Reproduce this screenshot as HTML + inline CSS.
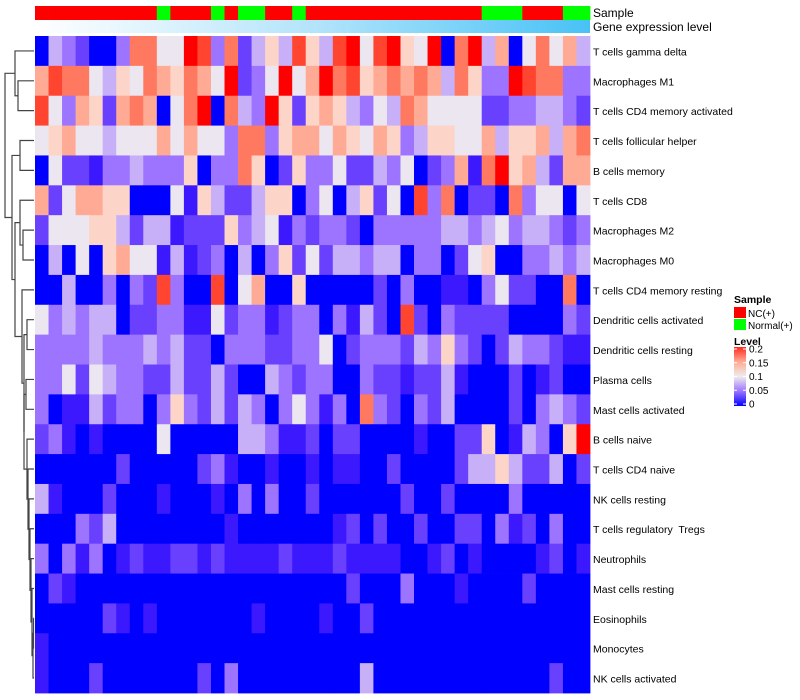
<!DOCTYPE html>
<html><head><meta charset="utf-8"><style>
html,body{margin:0;padding:0;background:#fff;}
svg{display:block;font-family:"Liberation Sans",Arial,sans-serif;}
#labels text{white-space:pre;}
</style></head><body>
<svg id="chart" width="800" height="700" viewBox="0 0 800 700" xmlns="http://www.w3.org/2000/svg">
<defs>
<linearGradient id="geneGrad" x1="0" x2="1" y1="0" y2="0">
<stop offset="0" stop-color="#ffffff"/><stop offset="0.5" stop-color="#b4e4fa"/><stop offset="1" stop-color="#48c2f6"/>
</linearGradient>
<linearGradient id="levelGrad" x1="0" x2="0" y1="1" y2="0">
<stop offset="0" stop-color="#0000ff"/><stop offset="0.25" stop-color="#9c74ff"/><stop offset="0.5" stop-color="#f0ecec"/><stop offset="0.75" stop-color="#ffaa94"/><stop offset="1" stop-color="#ff2a20"/>
</linearGradient>
</defs>
<g id="dendro"></g>
<g id="cells"></g>
<g id="annot"></g>
<g id="labels"></g>
<text x="593" y="17" font-size="12" fill="#000">Sample</text>
<text x="593" y="31" font-size="12" fill="#000">Gene expression level</text>
<g>
<text x="734" y="303" font-size="10.5" font-weight="bold">Sample</text>
<rect x="734" y="307" width="12" height="11" fill="#ff0000"/>
<text x="748" y="317" font-size="10">NC(+)</text>
<rect x="734" y="319" width="12" height="11" fill="#00ff00"/>
<text x="748" y="329" font-size="10">Normal(+)</text>
<text x="734" y="345" font-size="10.5" font-weight="bold">Level</text>
<rect x="734" y="347" width="12" height="59" fill="url(#levelGrad)"/>
<g id="legendTicks"></g>
</g>
</svg>
<script>
const rowNames = ["T cells gamma delta","Macrophages M1","T cells CD4 memory activated","T cells follicular helper","B cells memory","T cells CD8","Macrophages M2","Macrophages M0","T cells CD4 memory resting","Dendritic cells activated","Dendritic cells resting","Plasma cells","Mast cells activated","B cells naive","T cells CD4 naive","NK cells resting","T cells regulatory  Tregs","Neutrophils","Mast cells resting","Eosinophils","Monocytes","NK cells activated"];
// 41 sample groups: 1 = NC(+), 0 = Normal(+)
const sampleGroup = [1,1,1,1,1,1,1,1,1,0,1,1,1,0,1,0,0,1,1,0,1,1,1,1,1,1,1,1,1,1,1,1,1,0,0,0,1,1,1,0,0];
// Level values in units of 0.02 (0 = 0, 5 = 0.1, 10 = 0.2)
const r0 =[0,4,3,2,0,0,3,8,8,5,5,10,9,3,8,2,4,6,4,9,6,4,9,10,5,9,10,6,5,10,0,8,10,4,7,0,5,8,5,7,4];
const r1 =[7,9,8,8,5,4,6,5,8,7,6,8,7,5,10,2,3,5,10,5,7,10,8,9,6,7,8,7,8,7,4,8,6,3,3,10,9,8,8,3,3];
const r2 =[9,5,3,7,6,2,7,8,7,0,5,8,10,0,8,4,3,10,6,2,6,7,6,4,3,5,4,8,7,5,5,5,5,2,2,3,3,4,4,3,2];
const r3 =[5,6,7,5,5,4,5,5,5,7,5,7,5,5,3,8,8,3,6,7,7,5,7,6,5,7,6,3,4,6,6,5,5,7,4,6,6,7,4,7,8];
const r4 =[0,5,2,2,1,3,3,4,3,3,3,6,0,3,3,8,6,0,2,6,3,3,5,2,2,4,3,5,0,2,3,7,1,8,10,6,7,4,2,7,7];
const r5 =[7,2,5,7,7,6,6,0,0,0,5,1,6,4,2,2,4,6,6,0,3,5,0,4,6,2,5,0,9,3,8,0,2,2,0,8,3,5,5,0,5];
const r6 =[2,5,5,5,6,6,4,2,4,4,1,2,2,2,6,3,4,5,1,3,2,3,3,2,0,3,3,3,3,3,4,4,3,4,5,3,4,4,3,2,3];
const r7 =[0,4,0,5,0,6,7,5,5,1,4,1,2,3,0,4,0,3,6,2,5,2,4,4,3,4,4,0,3,3,0,2,5,6,0,0,3,3,4,3,4];
const r8 =[0,0,4,0,0,3,0,3,2,9,3,0,0,9,0,5,7,0,0,6,0,0,0,0,0,2,0,3,0,0,1,1,0,3,5,2,2,0,0,8,0];
const r9 =[5,3,4,3,4,4,0,2,2,3,3,1,1,5,2,3,3,1,2,3,3,0,3,1,4,2,0,9,2,0,3,2,2,2,2,0,0,0,0,3,2];
const r10=[3,3,3,3,4,3,3,3,4,3,4,2,2,0,3,3,3,2,2,3,3,5,0,2,3,3,3,2,4,3,6,3,2,0,2,4,3,3,2,1,1];
const r11=[3,3,5,2,5,4,3,3,2,2,4,2,2,4,2,0,0,4,3,2,3,3,0,0,3,2,2,1,2,2,4,1,0,0,0,2,0,1,2,0,0];
const r12=[3,0,1,1,4,2,3,3,0,3,6,3,2,4,2,4,3,0,3,5,3,1,3,0,8,3,2,0,3,2,4,0,0,0,0,2,0,3,4,3,2];
const r13=[2,3,1,0,1,0,0,0,0,5,0,0,0,0,0,4,4,3,1,1,2,0,2,2,0,0,0,0,1,0,0,2,2,6,0,1,4,3,0,6,10];
const r14=[0,0,0,0,0,0,2,0,0,0,0,0,2,3,1,0,0,1,0,0,1,0,1,1,0,0,2,0,0,0,0,2,4,4,6,4,2,2,4,0,2];
const r15=[4,1,0,0,0,2,0,0,0,1,0,0,0,1,0,3,0,3,0,0,2,0,0,0,0,0,0,2,0,0,2,0,0,0,0,3,0,0,0,0,0];
const r16=[0,0,0,3,2,4,0,0,0,0,0,0,0,0,1,0,0,0,0,0,0,0,1,2,0,2,0,0,2,0,0,2,2,0,3,1,2,0,3,0,0];
const r17=[3,0,3,1,3,0,1,2,1,1,2,2,1,2,1,1,1,1,2,1,1,1,2,1,1,1,1,0,0,1,2,0,1,0,0,0,0,1,2,0,1];
const r18=[0,2,1,0,0,0,0,0,0,0,0,0,0,0,0,0,0,0,0,0,0,0,0,2,0,0,0,3,0,0,0,1,0,0,0,0,2,0,0,0,0];
const r19=[0,0,0,0,0,2,1,0,1,0,0,0,0,0,0,0,1,0,0,0,0,1,0,0,2,0,0,0,0,0,0,0,0,0,0,0,0,0,0,0,0];
const r20=[1,0,0,0,0,0,0,0,0,0,0,0,0,0,0,0,0,0,0,0,0,0,0,0,0,0,0,0,0,0,0,0,0,0,0,0,0,0,0,0,0];
const r21=[1,0,0,0,2,0,0,0,0,0,0,0,2,0,3,0,0,0,0,0,0,0,0,0,4,0,0,0,0,0,0,0,0,0,0,0,0,0,2,0,0];
const levelRows = [r0,r1,r2,r3,r4,r5,r6,r7,r8,r9,r10,r11,r12,r13,r14,r15,r16,r17,r18,r19,r20,r21];
const legendTickValues = [10,7.5,5,2.5,0];
const legendTickLabels = ["0.2","0.15","0.1","0.05","0"];

const NS="http://www.w3.org/2000/svg";
const X0=35, X1=590, Y0=36, Y1=693;
const nCol=levelRows[0].length, nRow=levelRows.length;
const cw=(X1-X0)/nCol, rh=(Y1-Y0)/nRow;
const xPos=c=>X0+c*cw, yPos=r=>Y0+r*rh;
const stops=['#0000ff','#3c18ff','#6a40ff','#9c74ff','#c8b0f8','#ece6f0','#fcd4c8','#ffaa94','#ff7860','#ff4530','#ff0000'];
function hex(h){return [1,3,5].map(i=>parseInt(h.substr(i,2),16));}
function color(v){v=Math.max(0,Math.min(10,v));const i=Math.min(9,Math.floor(v)),t=v-i;const a=hex(stops[i]),b=hex(stops[i+1]);return 'rgb('+a.map((x,k)=>Math.round(x+(b[k]-x)*t)).join(',')+')';}
function mk(tag,attrs,parent){const e=document.createElementNS(NS,tag);for(const k in attrs)e.setAttribute(k,attrs[k]);parent.appendChild(e);return e;}

const cells=document.getElementById('cells');
levelRows.forEach((row,r)=>row.forEach((v,c)=>{
  const e=mk('rect',{x:xPos(c).toFixed(2),y:yPos(r).toFixed(2),width:(cw+0.4).toFixed(2),height:(rh+0.4).toFixed(2),fill:color(v)},cells);
  
  
}));
const annot=document.getElementById('annot');
sampleGroup.forEach((g,c)=>{
  const e=mk('rect',{x:xPos(c).toFixed(2),y:6,width:(cw+0.4).toFixed(2),height:14,fill:g?'#ff0000':'#00ff00'},annot);
  
  
});
const gb=mk('rect',{x:X0,y:20,width:X1-X0,height:13,fill:'url(#geneGrad)'},annot);



const labels=document.getElementById('labels');
rowNames.forEach((n,r)=>{
  const t=mk('text',{x:593,y:(yPos(r)+rh/2+4.5).toFixed(1),'font-size':'10.5',fill:'#000'},labels);
  t.textContent=n;
  
  
});

const lt=document.getElementById('legendTicks');
legendTickValues.forEach((v,i)=>{
  const y=404-v/10*55;
  mk('line',{x1:734,x2:737,y1:y,y2:y,stroke:'#fff','stroke-width':1},lt);
  mk('line',{x1:743,x2:746,y1:y,y2:y,stroke:'#fff','stroke-width':1},lt);
  const t=mk('text',{x:749,y:(y+3.5).toFixed(1),'font-size':'10'},lt);
  t.textContent=legendTickLabels[i];
  
  
});

// dendrogram tree built step by step: node = [x, left, right]; leaves are row indices
let chain=[33,[33.5,19,20],21];
const chainSteps=[[32,18],[31,17],[30,16],[29,15],[28,14],[27,13]];
chainSteps.forEach(s=>{chain=[s[0],s[1],chain];});
chain=[24,[26,11,12],chain];
chain=[24,[27,9,10],chain];
chain=[22,8,chain];
const nodeF=[15,[20,5,[23,6,7]],chain];
const nodeE=[12,[20,3,4],nodeF];
const tree=[5,[15,0,[18,1,2]],nodeE];
const dg=document.getElementById('dendro');
function draw(n){
  if(typeof n==='number') return {x:34,y:yPos(n)+rh/2};
  const a=draw(n[1]),b=draw(n[2]),x=n[0];
  mk('path',{d:'M'+a.x+','+a.y+'H'+x+'V'+b.y+'H'+b.x,fill:'none',stroke:'#444','stroke-width':1.2},dg);
  return {x:x,y:(a.y+b.y)/2};
}
draw(tree);
</script>
</body></html>
